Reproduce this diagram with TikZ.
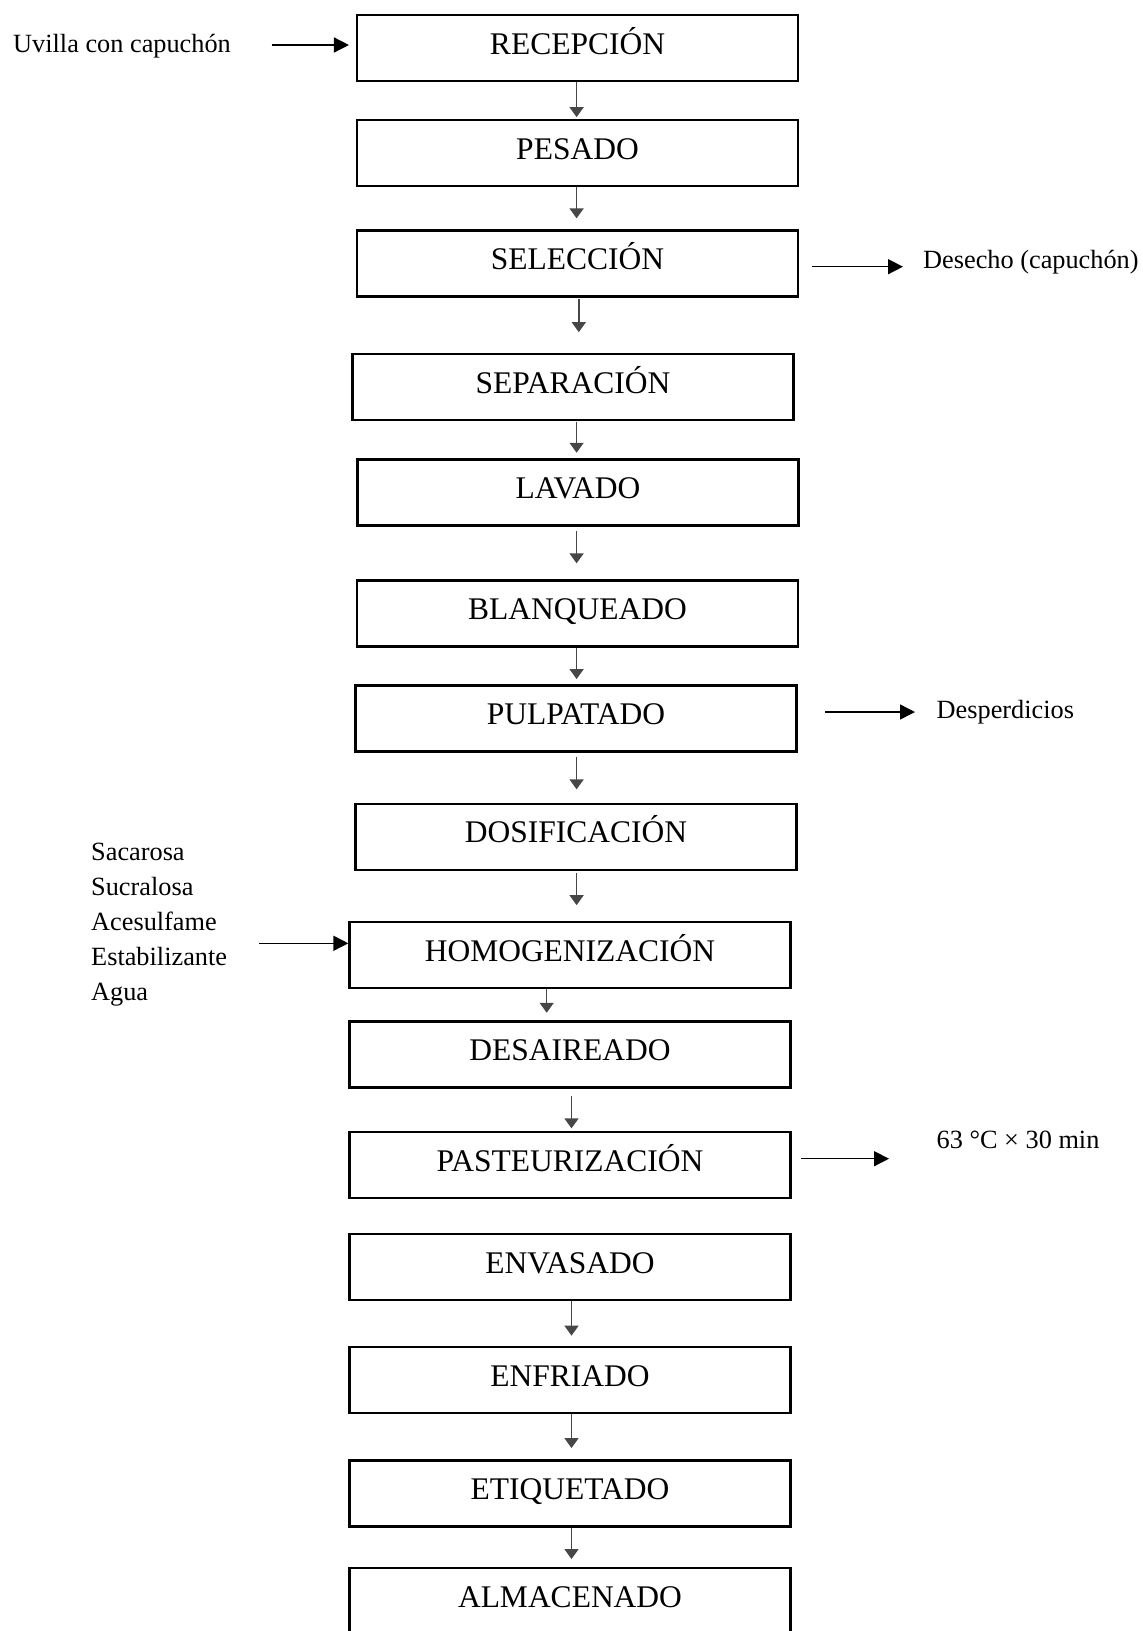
\documentclass[tikz,border=0pt]{standalone}
\usepackage{fontspec}
\setmainfont{Liberation Serif}
\usetikzlibrary{arrows.meta}
\begin{document}
\begin{tikzpicture}[x=1pt,y=-1pt,
  stepbox/.style={draw=black, line width=2.3pt, minimum width=441pt, minimum height=66pt,
    inner sep=0pt, font=\fontsize{31.5}{36}\selectfont, text height=22pt, text depth=9.5pt},
  conn/.style={draw=black!72, line width=1.5pt, -{Triangle[length=10pt,width=14pt]}},
  sidearr/.style={draw=black, line width=1.5pt, -{Triangle[length=15pt,width=15pt]}},
  lbl/.style={font=\fontsize{26.3}{32}\selectfont, inner sep=0pt, anchor=base west}]
\useasboundingbox (0,0) rectangle (1143,1631);

% process steps
\node[stepbox] (rec) at (577.5,48.3)  {RECEPCIÓN};
\node[stepbox] (pes) at (577.5,153.3) {PESADO};
\node[stepbox] (sel) at (577.5,263.5) {SELECCIÓN};
\node[stepbox] (sep) at (573,387.3)   {SEPARACIÓN};
\node[stepbox] (lav) at (578,492.5)   {LAVADO};
\node[stepbox] (bla) at (577.5,613.5) {BLANQUEADO};
\node[stepbox] (pul) at (576,718.5)   {PULPATADO};
\node[stepbox] (dos) at (576,836.7)   {DOSIFICACIÓN};
\node[stepbox] (hom) at (570,955.3)   {HOMOGENIZACIÓN};
\node[stepbox] (des) at (570,1054.5)  {DESAIREADO};
\node[stepbox] (pas) at (570,1165)    {PASTEURIZACIÓN};
\node[stepbox] (env) at (570,1267.3)  {ENVASADO};
\node[stepbox] (enf) at (570,1380.3)  {ENFRIADO};
\node[stepbox] (eti) at (570,1493.5)  {ETIQUETADO};
\node[stepbox] (alm) at (570,1601)    {ALMACENADO};

% vertical connectors
\draw[conn, shorten >=2pt]  ([xshift=-0.9pt]rec.south) -- ([xshift=-0.9pt]pes.north);
\draw[conn, shorten >=11pt] ([xshift=-0.9pt]pes.south) -- ([xshift=-0.9pt]sel.north);
\draw[conn, shorten <=1.3pt, shorten >=21pt] ([xshift=1.3pt]sel.south) -- ([xshift=5.8pt]sep.north);
\draw[conn, shorten <=0.5pt, shorten >=5.6pt] ([xshift=3.6pt]sep.south) -- ([xshift=-1.4pt]lav.north);
\draw[conn, shorten <=4.3pt, shorten >=16pt] ([xshift=-1.4pt]lav.south) -- ([xshift=-0.9pt]bla.north);
\draw[conn, shorten >=5.3pt] ([xshift=-0.9pt]bla.south) -- ([xshift=0.6pt]pul.north);
\draw[conn, shorten <=4.6pt, shorten >=13.2pt] ([xshift=0.6pt]pul.south) -- ([xshift=0.6pt]dos.north);
\draw[conn, shorten <=1.8pt, shorten >=16pt] ([xshift=0.6pt]dos.south) -- ([xshift=6.6pt]hom.north);
\draw[conn, shorten >=7.6pt] ([xshift=-23.3pt]hom.south) -- ([xshift=-23.3pt]des.north);
\draw[conn, shorten <=7.3pt, shorten >=2.5pt] ([xshift=1.5pt]des.south) -- ([xshift=1.5pt]pas.north);
\draw[conn, shorten >=10.5pt] ([xshift=1.5pt]env.south) -- ([xshift=1.5pt]enf.north);
\draw[conn, shorten >=11.3pt] ([xshift=1.5pt]enf.south) -- ([xshift=1.5pt]eti.north);
\draw[conn, shorten >=7.8pt] ([xshift=1.5pt]eti.south) -- ([xshift=1.5pt]alm.north);

% side labels
\node[lbl] (uvilla) at (13,52) {Uvilla con capuchón};
\node[lbl] (desecho) at (923,268.3) {Desecho (capuchón)};
\node[lbl] (desper) at (936.5,718.3) {Desperdicios};
\node[lbl] (temp) at (936.5,1148.3) {63 °C × 30 min};
\node[lbl] (ing1) at (91,860) {Sacarosa};
\node[lbl] (ing2) at (91,895) {Sucralosa};
\node[lbl] (ing3) at (91,930) {Acesulfame};
\node[lbl] (ing4) at (91,965.7) {Estabilizante};
\node[lbl] (ing5) at (91,1000.7) {Agua};

% side arrows
\coordinate (uin) at (271.5,45);
\draw[sidearr, shorten >=6.9pt] (uin) -- (uin -| rec.west);
\coordinate (dout) at (903,266.7);
\draw[sidearr, shorten <=12.9pt] (dout -| sel.east) -- (dout);
\coordinate (pout) at (915,712);
\draw[sidearr, shorten <=27.4pt] (pout -| pul.east) -- (pout);
\coordinate (sin) at (259,943.3);
\draw[sidearr] (sin) -- (sin -| hom.west);
\coordinate (tout) at (889,1158.7);
\draw[sidearr, shorten <=9.4pt] (tout -| pas.east) -- (tout);
\end{tikzpicture}
\end{document}
